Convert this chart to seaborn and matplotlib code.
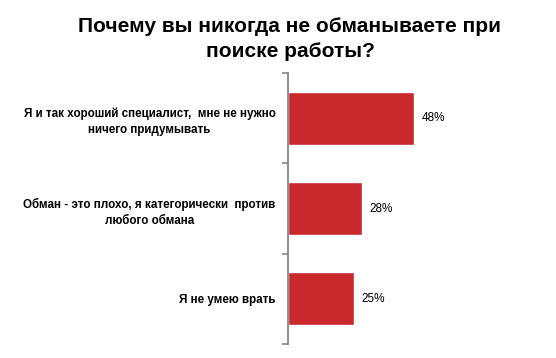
import matplotlib
matplotlib.use("Agg")
import matplotlib.pyplot as plt
import seaborn as sns
import pandas as pd

# data
answers = [
    "Я и так хороший специалист,  мне не нужно\nничего придумывать",
    "Обман - это плохо, я категорически  против\nлюбого обмана",
    "Я не умею врать",
]
shares = [48, 28, 25]
title = "Почему вы никогда не обманываете при\nпоиске работы?"

df = pd.DataFrame({"answer": answers, "share": shares})

sns.set_style("white")
plt.rcParams["font.family"] = ["Liberation Sans", "DejaVu Sans"]
plt.rcParams["text.color"] = "black"
plt.rcParams["ytick.labelcolor"] = "black"

fig = plt.figure(figsize=(5.56, 3.58), dpi=100)
ax = fig.add_axes([288 / 556, 1 - 344 / 358, 252 / 556, (344 - 73) / 358])

sns.barplot(data=df, x="share", y="answer", orient="h", color="#C9282D",
            saturation=1, width=0.59, ax=ax)

for i, v in enumerate(df["share"]):
    ax.text(v + 3, i, f"{v}%", va="center", ha="left", fontsize=8.5, color="black")

ax.set_xlim(0, 96)
ax.set_ylim(2.5, -0.5)
ax.set_xlabel("")
ax.set_ylabel("")
ax.set_xticks([])

ax.set_yticks([-0.5, 0.5, 1.5, 2.5])
ax.set_yticklabels([])
ax.set_yticks([0, 1, 2], minor=True)
ax.set_yticklabels(answers, minor=True, fontsize=8.4, fontweight="bold",
                   multialignment="center", linespacing=1.45, color="black")
ax.tick_params(axis="y", which="major", length=4, width=1.2, color="#868686", left=True)
ax.tick_params(axis="y", which="minor", length=0, pad=9)

for s in ["top", "right", "bottom"]:
    ax.spines[s].set_visible(False)
ax.spines["left"].set_color("#868686")
ax.spines["left"].set_linewidth(1.3)

fig.text(290 / 556, 1 - 39 / 358, title, ha="center", va="center",
         fontsize=15, fontweight="bold", linespacing=1.45, color="black")

fig.savefig("out.png", dpi=100)
